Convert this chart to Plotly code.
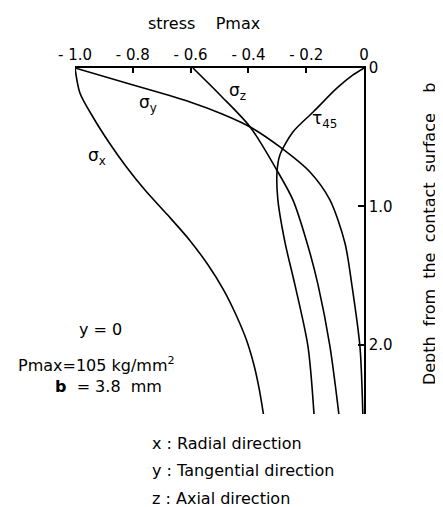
import plotly.graph_objects as go

# valeurs (contrainte / Pmax, profondeur / b)
depth_x = [0, 0.18, 0.354, 0.542, 0.715, 0.881, 1.061, 1.242, 1.422, 1.603, 1.783, 1.964, 2.144, 2.325, 2.5]
sigma_x = [-1.0, -0.983, -0.938, -0.881, -0.822, -0.758, -0.68, -0.604, -0.54, -0.486, -0.443, -0.407, -0.381, -0.362, -0.348]

depth_y = [0, 0.123, 0.245, 0.332, 0.426, 0.57, 0.751, 0.953, 1.264, 1.567, 2.014, 2.5]
sigma_y = [-1.0, -0.799, -0.602, -0.491, -0.394, -0.291, -0.187, -0.118, -0.066, -0.042, -0.014, -0.004]

depth_z = [0, 0.195, 0.426, 0.751, 0.953, 1.264, 1.567, 2.01, 2.5]
sigma_z = [-0.592, -0.498, -0.394, -0.298, -0.246, -0.197, -0.159, -0.118, -0.087]

depth_t = [0, 0.05, 0.144, 0.318, 0.462, 0.628, 0.751, 0.953, 1.264, 1.567, 2.01, 2.5]
tau_45 = [0, -0.038, -0.093, -0.176, -0.246, -0.291, -0.301, -0.298, -0.273, -0.239, -0.194, -0.173]

x_ticks = [-1.0, -0.8, -0.6, -0.4, -0.2, 0]
x_ticktext = ["- 1.0", "- 0.8", "- 0.6", "- 0.4", "- 0.2", "0"]
y_ticks = [0, 1, 2]
y_ticktext = ["0", "1.0", "2.0"]

FONT = dict(family="DejaVu Sans", color="black", size=15)
BIG = dict(FONT, size=16)
LINE = dict(color="black", width=1.6, shape="spline", smoothing=0.8)

fig = go.Figure()
for xs, ds in [(sigma_x, depth_x), (sigma_y, depth_y), (sigma_z, depth_z), (tau_45, depth_t)]:
    fig.add_trace(go.Scatter(x=xs, y=ds, mode="lines", line=LINE,
                             showlegend=False, hoverinfo="skip"))

# étiquettes des courbes
labels = [
    ("σ<sub>x</sub>", -0.924, 0.643),
    ("σ<sub>y</sub>", -0.747, 0.253),
    ("σ<sub>z</sub>", -0.439, 0.173),
    ("τ<sub>45</sub>", -0.135, 0.37),
]
for txt, x, y in labels:
    fig.add_annotation(x=x, y=y, text=txt, showarrow=False, font=dict(FONT, size=17))

fig.add_annotation(x=-0.913, y=1.89, text="y = 0", showarrow=False, font=BIG)
fig.add_annotation(x=-0.927, y=2.14, text="Pmax=105 kg/mm<sup>2</sup>", showarrow=False, font=BIG)
fig.add_annotation(x=-0.885, y=2.3, text="<b>b</b>\u00a0 = 3.8\u00a0 mm", showarrow=False, font=BIG)

# titres des axes
fig.add_annotation(xref="paper", yref="paper", x=0.446, y=1.13, xanchor="center", yanchor="middle",
                   text="stress\u00a0\u00a0\u00a0\u00a0Pmax", showarrow=False, font=BIG)
fig.add_annotation(xref="paper", yref="paper", x=1.225, y=0.52, textangle=-90,
                   xanchor="center", yanchor="middle",
                   text="Depth\u00a0 from\u00a0 the\u00a0 contact\u00a0 surface\u00a0\u00a0\u00a0\u00a0b",
                   showarrow=False, font=BIG)

# légende des directions
for i, txt in enumerate(["x : Radial direction", "y : Tangential direction", "z : Axial direction"]):
    fig.add_annotation(xref="paper", yref="paper", x=0.26, y=-0.084 - 0.08 * i,
                       xanchor="left", yanchor="middle", text=txt, showarrow=False, font=BIG)

# la page ajoute ~8 px de marge au body : on compense à gauche et en haut
fig.update_layout(
    width=443, height=507,
    margin=dict(l=67, r=87, t=60, b=101),
    paper_bgcolor="white", plot_bgcolor="white",
    font=FONT,
    xaxis=dict(side="top", range=[-1.0, 0], tickvals=x_ticks, ticktext=x_ticktext,
               showline=True, linecolor="black", linewidth=1.6,
               ticks="inside", ticklen=5, tickwidth=1.5, tickcolor="black",
               showgrid=False, zeroline=False, fixedrange=True),
    yaxis=dict(side="right", range=[2.5, 0], tickvals=y_ticks, ticktext=y_ticktext,
               showline=True, linecolor="black", linewidth=1.6,
               ticks="inside", ticklen=6, tickwidth=1.5, tickcolor="black",
               showgrid=False, zeroline=False, fixedrange=True),
)

fig.write_html("out.html")
